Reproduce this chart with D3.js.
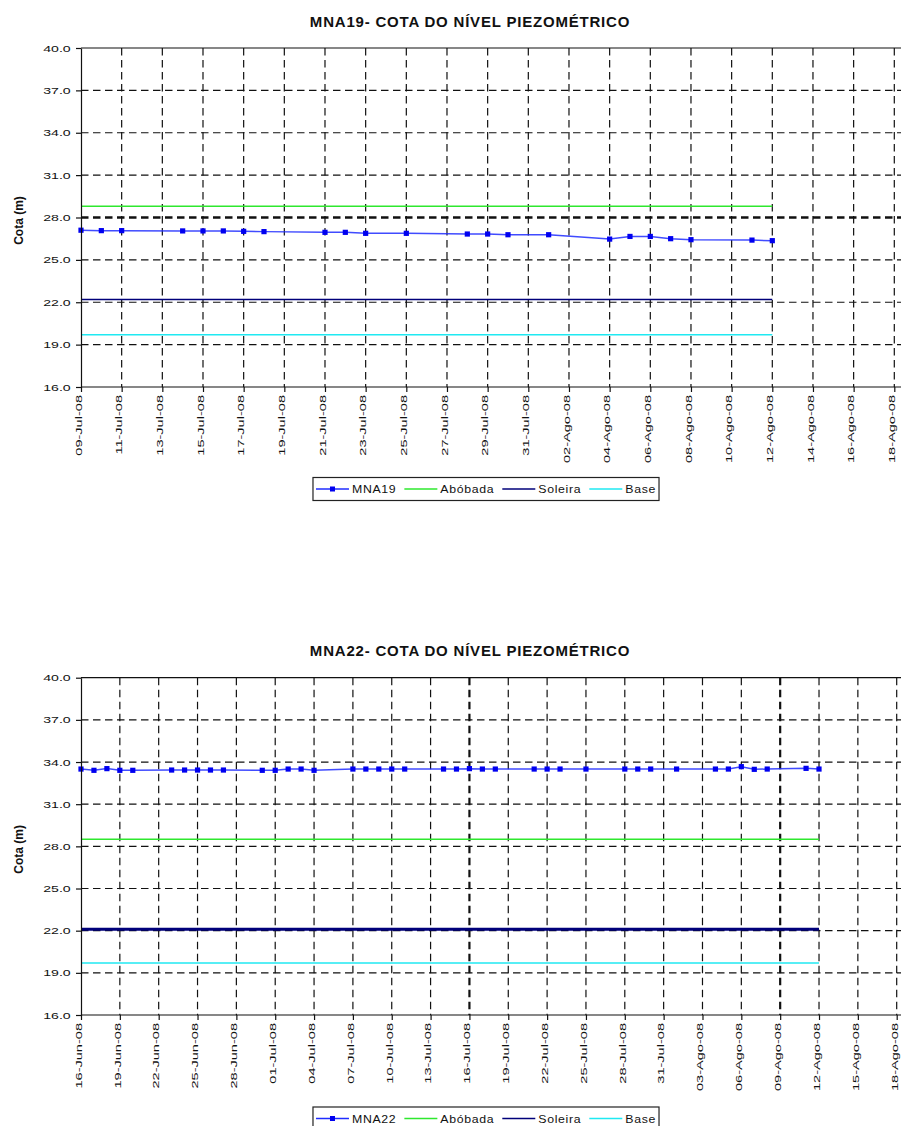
<!DOCTYPE html>
<html>
<head>
<meta charset="utf-8">
<script src="https://cdn.jsdelivr.net/npm/d3@7"></script>
<style>
  html, body { margin: 0; padding: 0; background: #fff; }
  svg { display: block; font-family: "Liberation Sans", Arial, Helvetica, sans-serif; }
</style>
</head>
<body>
<svg id="chart" width="901" height="1126"></svg>
<script>
// Portuguese month abbreviations used by the date labels
const monthsPt = ["Jan", "Fev", "Mar", "Abr", "Mai", "Jun", "Jul", "Ago", "Set", "Out", "Nov", "Dez"];

// Shared elevation axis (m)
const yTicks = [16, 19, 22, 25, 28, 31, 34, 37, 40];

// ---- MNA19 ----
const ticks19 = ["09-Jul-08", "11-Jul-08", "13-Jul-08", "15-Jul-08", "17-Jul-08", "19-Jul-08", "21-Jul-08",
  "23-Jul-08", "25-Jul-08", "27-Jul-08", "29-Jul-08", "31-Jul-08", "02-Ago-08", "04-Ago-08", "06-Ago-08",
  "08-Ago-08", "10-Ago-08", "12-Ago-08", "14-Ago-08", "16-Ago-08", "18-Ago-08"];
const dates19 = ["2008-07-09", "2008-07-10", "2008-07-11", "2008-07-14", "2008-07-15", "2008-07-16", "2008-07-17",
  "2008-07-18", "2008-07-21", "2008-07-22", "2008-07-23", "2008-07-25", "2008-07-28", "2008-07-29", "2008-07-30",
  "2008-08-01", "2008-08-04", "2008-08-05", "2008-08-06", "2008-08-07", "2008-08-08", "2008-08-11", "2008-08-12"];
const values19 = [27.10, 27.07, 27.07, 27.05, 27.05, 27.05, 27.02, 27.00, 26.95, 26.95, 26.88, 26.88, 26.83, 26.83,
  26.78, 26.78, 26.47, 26.66, 26.66, 26.50, 26.43, 26.40, 26.36];
const abobada19 = 28.8;
const soleira19 = 22.2;
const base19 = 19.7;

// ---- MNA22 ----
const ticks22 = ["16-Jun-08", "19-Jun-08", "22-Jun-08", "25-Jun-08", "28-Jun-08", "01-Jul-08", "04-Jul-08",
  "07-Jul-08", "10-Jul-08", "13-Jul-08", "16-Jul-08", "19-Jul-08", "22-Jul-08", "25-Jul-08", "28-Jul-08",
  "31-Jul-08", "03-Ago-08", "06-Ago-08", "09-Ago-08", "12-Ago-08", "15-Ago-08", "18-Ago-08"];
const dates22 = ["2008-06-16", "2008-06-17", "2008-06-18", "2008-06-19", "2008-06-20", "2008-06-23", "2008-06-24",
  "2008-06-25", "2008-06-26", "2008-06-27", "2008-06-30", "2008-07-01", "2008-07-02", "2008-07-03", "2008-07-04",
  "2008-07-07", "2008-07-08", "2008-07-09", "2008-07-10", "2008-07-11", "2008-07-14", "2008-07-15", "2008-07-16",
  "2008-07-17", "2008-07-18", "2008-07-21", "2008-07-22", "2008-07-23", "2008-07-25", "2008-07-28", "2008-07-29",
  "2008-07-30", "2008-08-01", "2008-08-04", "2008-08-05", "2008-08-06", "2008-08-07", "2008-08-08", "2008-08-11",
  "2008-08-12"];
const values22 = [33.50, 33.41, 33.53, 33.41, 33.41, 33.43, 33.43, 33.43, 33.43, 33.43, 33.41, 33.41, 33.50, 33.50,
  33.41, 33.50, 33.50, 33.50, 33.50, 33.50, 33.50, 33.50, 33.53, 33.50, 33.50, 33.50, 33.50, 33.50, 33.50, 33.50,
  33.50, 33.50, 33.50, 33.50, 33.50, 33.67, 33.48, 33.50, 33.55, 33.50];
const abobada22 = 28.5;
const soleira22 = 22.1;
const base22 = 19.7;

const refNames = ["Abóbada", "Soleira", "Base"];

// ---- helpers ----
const parseIso = d3.utcParse("%Y-%m-%d");
function parseLabel(s) {
  const [dd, mmm, yy] = s.split("-");
  return new Date(Date.UTC(2000 + +yy, monthsPt.indexOf(mmm), +dd));
}
const fmtY = d3.format(".1f");

const svg = d3.select("#chart");

function drawChart(cfg) {
  const g = svg.append("g");
  const tickDates = cfg.ticks.map(parseLabel);
  const x = d3.scaleUtc()
    .domain([tickDates[0], tickDates[tickDates.length - 1]])
    .range([cfg.left, cfg.xLast]);
  const y = d3.scaleLinear().domain([16, 40]).range([cfg.bottom, cfg.top]);

  // title
  g.append("text")
    .attr("x", 470).attr("y", cfg.titleY)
    .attr("text-anchor", "middle")
    .attr("font-size", 15).attr("font-weight", "bold")
    .attr("letter-spacing", 0.8)
    .attr("fill", "#111")
    .text(cfg.title);

  // dashed grid
  const grid = g.append("g").attr("stroke", "#111").attr("fill", "none");
  grid.selectAll("line.h")
    .data(yTicks.filter(v => v > 16 && v < 40))
    .join("line")
    .attr("x1", cfg.left).attr("x2", cfg.right)
    .attr("y1", d => y(d)).attr("y2", d => y(d))
    .attr("stroke-width", d => cfg.boldY.includes(d) ? 2.6 : 1.2)
    .attr("stroke-dasharray", "7.5,4.5");
  grid.selectAll("line.v")
    .data(tickDates.slice(1))
    .join("line")
    .attr("x1", d => x(d)).attr("x2", d => x(d))
    .attr("y1", cfg.top).attr("y2", cfg.bottom)
    .attr("stroke-width", d => cfg.boldX.map(parseLabel).some(b => +b === +d) ? 2.2 : 1.2)
    .attr("stroke-dasharray", "7.5,4.5");

  // top frame line
  g.append("line")
    .attr("x1", cfg.left).attr("x2", cfg.right)
    .attr("y1", cfg.top).attr("y2", cfg.top)
    .attr("stroke", "#111").attr("stroke-width", 1.2);

  // reference levels, spanning the monitoring period
  const dFirst = parseIso(cfg.dates[0]);
  const dLast = parseIso(cfg.dates[cfg.dates.length - 1]);
  cfg.refs.forEach(r => {
    g.append("line")
      .attr("x1", x(dFirst)).attr("x2", x(dLast))
      .attr("y1", y(r.value)).attr("y2", y(r.value))
      .attr("stroke", r.color).attr("stroke-width", r.width);
  });

  // piezometric level series
  const pts = cfg.dates.map((d, i) => ({ date: parseIso(d), value: cfg.values[i] }));
  g.append("path")
    .datum(pts)
    .attr("fill", "none")
    .attr("stroke", "#1f2cff")
    .attr("stroke-opacity", 0.85)
    .attr("stroke-width", 1.5)
    .attr("d", d3.line().x(d => x(d.date)).y(d => y(d.value)));
  g.selectAll("rect.pt")
    .data(pts)
    .join("rect")
    .attr("x", d => x(d.date) - 2.6).attr("y", d => y(d.value) - 2.6)
    .attr("width", 5.2).attr("height", 5.2)
    .attr("fill", "#0000f0");

  // axes
  const ax = g.append("g")
    .attr("transform", `translate(0,${cfg.bottom})`)
    .call(d3.axisBottom(x).tickValues(tickDates).tickFormat((d, i) => cfg.ticks[i]).tickSize(5).tickSizeOuter(0));
  ax.select(".domain").attr("stroke", "#111").attr("stroke-width", 1.2).attr("d", `M${cfg.left},0H${cfg.right}`);
  ax.selectAll(".tick line").attr("stroke", "#111").attr("stroke-width", 1.2);
  ax.selectAll(".tick text")
    .attr("x", 0).attr("y", 0).attr("dy", null)
    .attr("text-anchor", "end")
    .attr("font-size", 9.4)
    .attr("fill", "#111")
    .attr("font-family", "Liberation Sans, Arial, sans-serif")
    .attr("transform", "translate(0.3,8) rotate(-90) scale(1.55,1)");

  const ay = g.append("g")
    .attr("transform", `translate(${cfg.left},0)`)
    .call(d3.axisLeft(y).tickValues(yTicks).tickFormat(fmtY).tickSize(5).tickSizeOuter(0));
  ay.select(".domain").attr("stroke", "#111").attr("stroke-width", 1.2);
  ay.selectAll(".tick line").attr("stroke", "#111").attr("stroke-width", 1.2);
  ay.selectAll(".tick text")
    .attr("x", 0)
    .attr("text-anchor", "end")
    .attr("font-size", 9.4)
    .attr("fill", "#111")
    .attr("font-family", "Liberation Sans, Arial, sans-serif")
    .attr("transform", "translate(-10.3,0) scale(1.5,1)");

  // y axis title
  g.append("text")
    .attr("transform", `translate(23,${(cfg.top + cfg.bottom) / 2 + 3}) rotate(-90)`)
    .attr("text-anchor", "middle")
    .attr("font-size", 12).attr("font-weight", "bold")
    .attr("fill", "#111")
    .text("Cota (m)");

  // legend
  const lg = g.append("g").attr("transform", `translate(0,${cfg.legendY})`);
  const box = lg.append("rect")
    .attr("fill", "#fff").attr("stroke", "#222").attr("stroke-width", 1.2);
  const items = [{ name: cfg.seriesName, color: "#1f2cff", width: 1.5, marker: true }]
    .concat(cfg.refs.map(r => ({ name: r.name, color: r.color, width: r.legendWidth || 1.4, marker: false })));
  let cx = 0;
  const inner = lg.append("g");
  items.forEach(it => {
    inner.append("line")
      .attr("x1", cx).attr("x2", cx + 33).attr("y1", 0).attr("y2", 0)
      .attr("stroke", it.color).attr("stroke-width", it.width);
    if (it.marker) {
      inner.append("rect").attr("x", cx + 16.5 - 2.5).attr("y", -2.5).attr("width", 5).attr("height", 5).attr("fill", "#0000f0");
    }
    cx += 36;
    const t = inner.append("text")
      .attr("transform", `translate(${cx},4) scale(1.12,1)`)
      .attr("font-size", 11).attr("fill", "#111")
      .attr("letter-spacing", 0.6)
      .text(it.name);
    cx += t.node().getComputedTextLength() * 1.12 + 8;
  });
  const totalW = cx - 8 + 6;
  const x0 = cfg.legendCx - totalW / 2;
  inner.attr("transform", `translate(${x0 + 3},0)`);
  box.attr("x", x0).attr("y", -11.5).attr("width", totalW).attr("height", 23);
}

drawChart({
  title: "MNA19- COTA DO NÍVEL PIEZOMÉTRICO",
  seriesName: "MNA19",
  ticks: ticks19, dates: dates19, values: values19,
  refs: [
    { name: refNames[0], value: abobada19, color: "#2ee82e", width: 1.4 },
    { name: refNames[1], value: soleira19, color: "#00007a", width: 1.4 },
    { name: refNames[2], value: base19, color: "#1fe9f2", width: 1.4 }
  ],
  titleY: 27, top: 48, bottom: 387, left: 81, xLast: 894.3, right: 901,
  boldY: [28], boldX: [],
  legendY: 489, legendCx: 486
});

drawChart({
  title: "MNA22- COTA DO NÍVEL PIEZOMÉTRICO",
  seriesName: "MNA22",
  ticks: ticks22, dates: dates22, values: values22,
  refs: [
    { name: refNames[0], value: abobada22, color: "#2ee82e", width: 1.4 },
    { name: refNames[1], value: soleira22, color: "#00007a", width: 2.8, legendWidth: 1.4 },
    { name: refNames[2], value: base22, color: "#1fe9f2", width: 1.4 }
  ],
  titleY: 656, top: 677.7, bottom: 1015, left: 81, xLast: 896.7, right: 901,
  boldY: [], boldX: ["16-Jul-08", "09-Ago-08"],
  legendY: 1118.5, legendCx: 486
});
</script>
</body>
</html>
